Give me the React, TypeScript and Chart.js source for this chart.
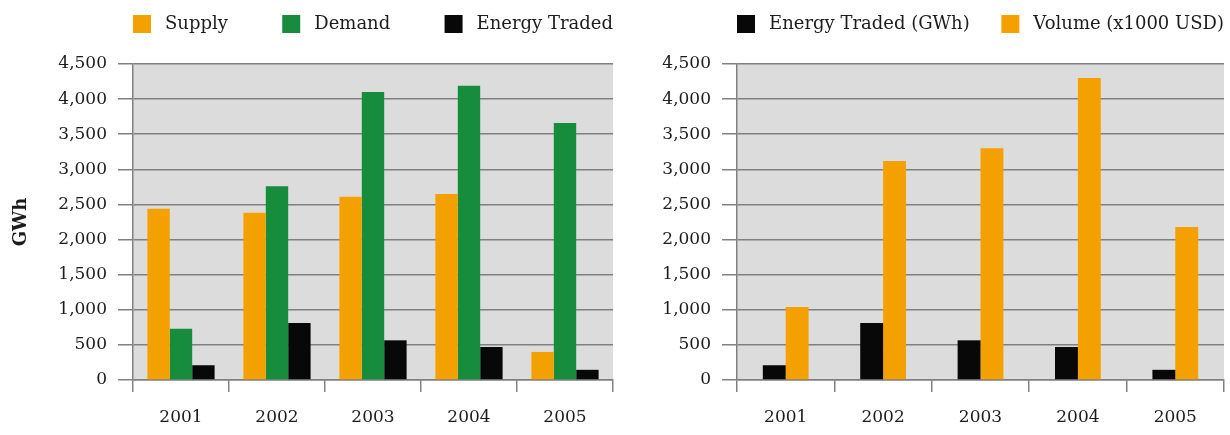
import React, { useEffect, useRef } from 'react';
import { Chart, registerables } from 'chart.js';

Chart.register(...registerables);

// Years on the category axis
const years = ['2001', '2002', '2003', '2004', '2005'];

// Left panel: market balance (GWh)
const supply = [2440, 2380, 2610, 2650, 400];
const demand = [730, 2760, 4100, 4190, 3660];
const energyTraded = [210, 810, 565, 470, 145];

// Right panel: traded volume (x1000 USD)
const volume = [1040, 3120, 3300, 4300, 2180];

// Value axis
const yMin = 0;
const yMax = 4500;
const yStep = 500;

const FONT = '"DejaVu Serif", "Liberation Serif", serif';
const ORANGE = '#f4a100';
const GREEN = '#168c3c';
const BLACK = '#080808';
const TEXT = '#1c1c1c';
const GRID = '#808080';
const PLOT_BG = '#dcdcdc';

// Fills the plotting area with a flat grey
const plotBackground = {
  id: 'plotBackground',
  beforeDraw(chart: any) {
    const { ctx, chartArea } = chart;
    ctx.save();
    ctx.fillStyle = PLOT_BG;
    ctx.fillRect(chartArea.left, chartArea.top, chartArea.width, chartArea.height);
    ctx.restore();
  },
};

// Legend spread across the width of the plotting area
const spreadLegend = {
  id: 'spreadLegend',
  afterDraw(chart: any) {
    const { ctx, chartArea } = chart;
    const box = 18;
    const gap = 14;
    const y = 24;
    ctx.save();
    ctx.font = `18px ${FONT}`;
    const items = chart.data.datasets.map((ds: any) => ({
      label: ds.label as string,
      color: ds.backgroundColor as string,
      w: ctx.measureText(ds.label).width,
    }));
    const total = items.reduce((s: number, it: any) => s + box + gap + it.w, 0);
    const space = items.length > 1 ? (chartArea.width - total) / (items.length - 1) : 0;
    let x = chartArea.left;
    ctx.textBaseline = 'middle';
    ctx.textAlign = 'left';
    for (const it of items) {
      ctx.fillStyle = it.color;
      ctx.fillRect(x, y - box / 2, box, box);
      ctx.fillStyle = TEXT;
      ctx.fillText(it.label, x + box + gap, y);
      x += box + gap + it.w + space;
    }
    ctx.restore();
  },
};

function makeOptions(axisWidth: number, rightPad: number, title?: string, catPct = 0.7): any {
  return {
    responsive: false,
    animation: false,
    devicePixelRatio: 1,
    layout: { padding: { top: 64, right: rightPad, bottom: 0, left: 0 } },
    plugins: { legend: { display: false }, tooltip: { enabled: false } },
    datasets: { bar: { categoryPercentage: catPct, barPercentage: 1 } },
    scales: {
      x: {
        grid: {
          offset: true,
          drawOnChartArea: false,
          drawTicks: true,
          tickLength: 12,
          color: GRID,
          lineWidth: 1.5,
        },
        border: { color: GRID, width: 1.5 },
        ticks: { font: { family: FONT, size: 17 }, color: TEXT, padding: 15 },
        afterFit(scale: any) {
          scale.height = 55;
        },
      },
      y: {
        min: yMin,
        max: yMax,
        ticks: {
          stepSize: yStep,
          font: { family: FONT, size: 17 },
          color: TEXT,
          padding: 11,
          callback: (v: any) => Number(v).toLocaleString('en-US'),
        },
        grid: { color: GRID, lineWidth: 1.5, tickLength: 15 },
        border: { color: GRID, width: 1.5 },
        title: title
          ? {
              display: true,
              text: title,
              color: TEXT,
              font: { family: FONT, size: 18, weight: 'bold' },
              padding: { top: 11, bottom: 0 },
            }
          : { display: false },
        afterFit(scale: any) {
          scale.width = axisWidth;
        },
      },
    },
  };
}

function BalanceChart() {
  const ref = useRef<HTMLCanvasElement>(null);
  useEffect(() => {
    const chart = new Chart(ref.current as HTMLCanvasElement, {
      type: 'bar',
      data: {
        labels: years,
        datasets: [
          { label: 'Supply', data: supply, backgroundColor: ORANGE },
          { label: 'Demand', data: demand, backgroundColor: GREEN },
          { label: 'Energy Traded', data: energyTraded, backgroundColor: BLACK },
        ],
      },
      options: makeOptions(133, 2, 'GWh', 0.7),
      plugins: [plotBackground, spreadLegend],
    });
    return () => chart.destroy();
  }, []);
  return <canvas ref={ref} width={615} height={435} style={{ display: 'block' }} />;
}

function VolumeChart() {
  const ref = useRef<HTMLCanvasElement>(null);
  useEffect(() => {
    const chart = new Chart(ref.current as HTMLCanvasElement, {
      type: 'bar',
      data: {
        labels: years,
        datasets: [
          { label: 'Energy Traded (GWh)', data: energyTraded, backgroundColor: BLACK },
          { label: 'Volume (x1000 USD)', data: volume, backgroundColor: ORANGE },
        ],
      },
      options: makeOptions(122, 6, undefined, 0.47),
      plugins: [plotBackground, spreadLegend],
    });
    return () => chart.destroy();
  }, []);
  return <canvas ref={ref} width={615} height={435} style={{ display: 'block' }} />;
}

export default function App() {
  return (
    <div
      style={{
        position: 'absolute',
        left: 0,
        top: 0,
        width: 1230,
        height: 435,
        background: '#ffffff',
        display: 'flex',
      }}
    >
      <BalanceChart />
      <VolumeChart />
    </div>
  );
}
